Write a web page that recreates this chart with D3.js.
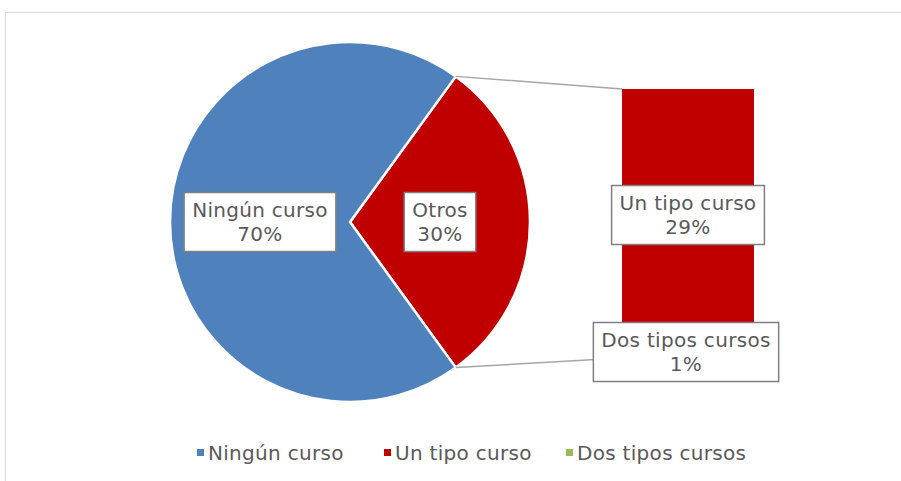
<!DOCTYPE html>
<html><head><meta charset="utf-8">
<script src="https://cdn.jsdelivr.net/npm/d3@7"></script>
<style>body{margin:0;background:#fff}svg{display:block}</style>
</head><body>
<script>
const categories = ["Ningún curso", "Un tipo curso", "Dos tipos cursos"];
const values = [70, 29, 1];
const colors = ["#4F81BD", "#C00000", "#9BBB59"];
const pieLabels = ["Ningún curso", "Otros"];
const pieValues = [values[0], values[1] + values[2]];
const pieColors = ["#4F81BD", "#C00000"];

const W = 901, H = 481;
const svg = d3.select("body").append("svg").attr("width", W).attr("height", H);
const font = "'DejaVu Sans', sans-serif";
const textColor = "#595959";
const fs = 20, ls = 0.3;

svg.append("rect").attr("x", 5.5).attr("y", 12.5).attr("width", 1000).attr("height", 600)
  .attr("fill", "none").attr("stroke", "#D9D9D9").attr("stroke-width", 1);

const cx = 350, cy = 222, R = 180;
const otrosSpan = pieValues[1] / d3.sum(pieValues) * 2 * Math.PI;
const start = Math.PI / 2 - otrosSpan / 2;
const pie = d3.pie().sort(null).startAngle(start).endAngle(start + 2 * Math.PI);
const pieData = pie([pieValues[1], pieValues[0]]);
const slices = [
  {label: pieLabels[1], value: pieValues[1], color: pieColors[1], arc: pieData[0]},
  {label: pieLabels[0], value: pieValues[0], color: pieColors[0], arc: pieData[1]}
];
const arc = d3.arc().innerRadius(0).outerRadius(R);
const g = svg.append("g").attr("transform", `translate(${cx},${cy})`);
g.selectAll("path").data(slices).join("path")
  .attr("d", d => arc(d.arc)).attr("fill", d => d.color)
  .attr("stroke", "#fff").attr("stroke-width", 2.5).attr("stroke-linejoin", "miter");

// bar
const barX = 622, barW = 132;
const y = d3.scaleLinear().domain([0, pieValues[1]]).range([358, 89]);
let acc = 0;
const segs = [];
for (let i = values.length - 1; i >= 1; i--) {
  segs.push({label: categories[i], value: values[i], color: colors[i], y0: acc, y1: acc + values[i]});
  acc += values[i];
}
svg.selectAll("rect.seg").data(segs).join("rect").attr("class", "seg")
  .attr("x", barX).attr("width", barW)
  .attr("y", d => y(d.y1)).attr("height", d => y(d.y0) - y(d.y1))
  .attr("fill", d => d.color);

// connectors
const a0 = slices[0].arc.startAngle, a1 = slices[0].arc.endAngle;
const lineC = "#A6A6A6";
svg.append("line").attr("x1", cx + R * Math.sin(a0)).attr("y1", cy - R * Math.cos(a0))
  .attr("x2", barX).attr("y2", y(pieValues[1])).attr("stroke", lineC).attr("stroke-width", 1.5);
svg.append("line").attr("x1", cx + R * Math.sin(a1)).attr("y1", cy - R * Math.cos(a1))
  .attr("x2", barX).attr("y2", y(0)).attr("stroke", lineC).attr("stroke-width", 1.5);

// labels
function label(x, yc, lines) {
  const lg = svg.append("g");
  const box = lg.append("rect").attr("fill", "#fff").attr("stroke", "#808080").attr("stroke-width", 1.5);
  const t = lg.append("text").attr("font-family", font).attr("font-size", fs).attr("letter-spacing", ls)
    .attr("fill", textColor).attr("text-anchor", "middle");
  const lh = 24;
  lines.forEach((s, i) => t.append("tspan").attr("x", x).attr("y", yc - lh / 2 + i * lh + 7).text(s));
  const bb = t.node().getBBox();
  const padX = 8, h = 59;
  box.attr("x", x - bb.width / 2 - padX).attr("y", yc - h / 2).attr("width", bb.width + 2 * padX).attr("height", h);
}
const lr = 90;
slices.forEach(s => {
  const m = (s.arc.startAngle + s.arc.endAngle) / 2;
  label(cx + lr * Math.sin(m), cy - lr * Math.cos(m), [s.label, Math.round(s.value) + "%"]);
});
label(barX + barW / 2, (y(segs[1].y0) + y(segs[1].y1)) / 2 - 4, [segs[1].label, segs[1].value + "%"]);
label(barX + barW / 2 - 2, y(segs[0].y0) - 6, [segs[0].label, segs[0].value + "%"]);

// legend
const legX = [197, 384, 566];
const lgd = svg.append("g");
categories.forEach((c, i) => {
  lgd.append("rect").attr("x", legX[i]).attr("y", 449).attr("width", 7).attr("height", 7).attr("fill", colors[i]);
  lgd.append("text").attr("x", legX[i] + 11).attr("y", 460).attr("font-family", font).attr("font-size", fs)
    .attr("letter-spacing", ls).attr("fill", textColor).text(c);
});
</script>
</body></html>
